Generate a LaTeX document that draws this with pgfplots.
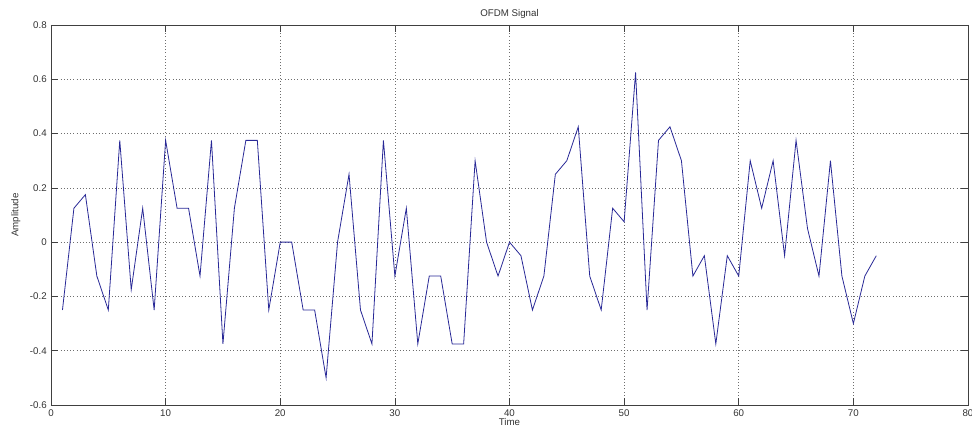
\documentclass[border=0pt]{standalone}
\usepackage{fontspec}
\setmainfont{Liberation Sans}
\usepackage{pgfplots}
\pgfplotsset{compat=1.18}
\definecolor{sig}{RGB}{40,40,150}
\definecolor{gridc}{RGB}{110,110,110}
\begin{document}
\fontsize{7.3}{8.8}\selectfont
\begin{tikzpicture}
\begin{axis}[
  at={(0,0)}, anchor=south west,
  scale only axis,
  width=687.75pt, height=285pt,
  xmin=0, xmax=80, ymin=-0.6, ymax=0.8,
  xtick={0,10,...,80},
  ytick={-0.6,-0.4,-0.2,0,0.2,0.4,0.6,0.8},
  yticklabels={-0.6,-0.4,-0.2,0,0.2,0.4,0.6,0.8},
  tick align=inside,
  major tick length=5pt,
  tick style={black!75, line width=0.5pt},
  axis line style={black!75, line width=0.6pt},
  grid=major,
  major grid style={gridc, dotted, line width=0.5pt},
  /pgf/number format/assume math mode=true,
  tick label style={font=\fontsize{7.3}{8.8}\selectfont, text=black!80},
  xticklabel style={inner sep=0pt, anchor=north, yshift=-3pt},
  yticklabel style={inner sep=0pt, anchor=east, xshift=-3pt},
  every axis title shift=0pt,
  title={OFDM Signal},
  title style={at={(axis description cs:0.5,1)}, anchor=base, inner sep=0pt, yshift=6pt, font=\fontsize{7.3}{8.8}\selectfont, text=black!80},
  xlabel={Time},
  xlabel style={at={(axis description cs:0.5,0)}, anchor=base, inner sep=0pt, yshift=-15.6pt, font=\fontsize{7.3}{8.8}\selectfont, text=black!80},
  ylabel={Amplitude},
  ylabel style={at={(axis description cs:-0.0382,0.5)}, anchor=center, inner sep=0pt, font=\fontsize{7.3}{8.8}\selectfont, text=black!80},
]
\addplot[sig, line width=0.6pt, mark=none] coordinates {
(1,-0.25) (2,0.125) (3,0.175) (4,-0.125) (5,-0.25) (6,0.375) (7,-0.175) (8,0.125)
(9,-0.25) (10,0.375) (11,0.125) (12,0.125) (13,-0.125) (14,0.375) (15,-0.375) (16,0.125)
(17,0.375) (18,0.375) (19,-0.25) (20,0) (21,0) (22,-0.25) (23,-0.25) (24,-0.5)
(25,0) (26,0.25) (27,-0.25) (28,-0.375) (29,0.375) (30,-0.125) (31,0.125) (32,-0.375)
(33,-0.125) (34,-0.125) (35,-0.375) (36,-0.375) (37,0.3) (38,0) (39,-0.125) (40,0)
(41,-0.05) (42,-0.25) (43,-0.125) (44,0.25) (45,0.3) (46,0.425) (47,-0.125) (48,-0.25)
(49,0.125) (50,0.075) (51,0.625) (52,-0.25) (53,0.375) (54,0.425) (55,0.3) (56,-0.125)
(57,-0.05) (58,-0.375) (59,-0.05) (60,-0.125) (61,0.3) (62,0.125) (63,0.3) (64,-0.05)
(65,0.375) (66,0.05) (67,-0.125) (68,0.3) (69,-0.125) (70,-0.3) (71,-0.125) (72,-0.05)
};
\end{axis}
\pgfresetboundingbox
\useasboundingbox (-38.25pt,-16.5pt) rectangle (690.75pt,303.75pt);
\end{tikzpicture}
\end{document}
